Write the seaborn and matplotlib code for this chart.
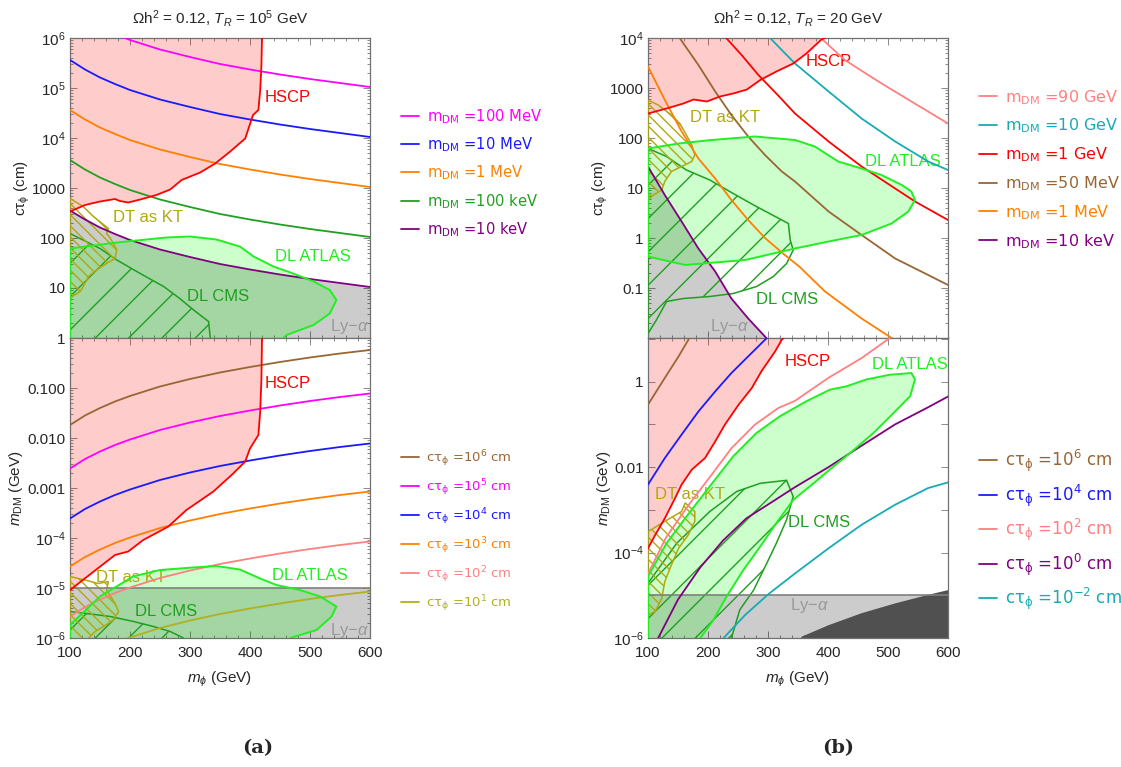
import numpy as np
import matplotlib
matplotlib.use('Agg')
import matplotlib.pyplot as plt
import seaborn as sns
from matplotlib.lines import Line2D
from matplotlib.ticker import FixedLocator, FixedFormatter, LogLocator, NullFormatter, NullLocator, MultipleLocator

sns.set_style('ticks')
plt.rcParams['font.family'] = ['Liberation Sans', 'DejaVu Sans']
plt.rcParams['mathtext.fontset'] = 'custom'
plt.rcParams['mathtext.rm'] = 'Liberation Sans'
plt.rcParams['mathtext.it'] = 'Liberation Sans:italic'
plt.rcParams['mathtext.bf'] = 'Liberation Sans:bold'
plt.rcParams['hatch.linewidth'] = 1.0

# ---------------- colours ----------------
C_MAG, C_BLUE, C_ORA, C_GRN, C_PUR = '#ff00ff', '#1a1aff', '#ff8000', '#20a020', '#800080'
C_BRN, C_PNK, C_OLV, C_TEAL, C_RED = '#996633', '#ff8080', '#b0b020', '#17abb3', '#ff0000'
C_ATL, C_CMS, C_DT = '#22ee22', '#1f9f1f', '#b0a810'

# ---------------- panel (a), top: c tau vs m_phi (log10 values) ----------------
mA = [100, 125, 150, 175, 200, 250, 300, 350, 400, 450, 500, 550, 600]
a_top_100MeV = [6.56, 6.37, 6.21, 6.08, 5.96, 5.77, 5.62, 5.48, 5.37, 5.27, 5.18, 5.10, 5.02]
a_top_10MeV = [5.56, 5.37, 5.21, 5.08, 4.96, 4.77, 4.62, 4.48, 4.37, 4.27, 4.18, 4.10, 4.02]
a_top_1MeV = [4.56, 4.37, 4.21, 4.08, 3.96, 3.77, 3.62, 3.48, 3.37, 3.27, 3.18, 3.10, 3.02]
a_top_100keV = [3.56, 3.37, 3.21, 3.08, 2.96, 2.77, 2.62, 2.48, 2.37, 2.27, 2.18, 2.10, 2.02]
a_top_10keV = [2.55, 2.37, 2.21, 2.08, 1.96, 1.77, 1.62, 1.48, 1.37, 1.27, 1.18, 1.10, 1.02]

a_top_hscp_m = [100, 125, 150, 175, 183, 197, 217, 244, 267, 286, 317, 342, 367, 392, 405, 414, 417, 419, 420]
a_top_hscp_y = [2.53, 2.66, 2.73, 2.78, 2.74, 2.71, 2.77, 2.86, 2.97, 3.16, 3.31, 3.49, 3.73, 3.99, 4.46, 4.56, 4.96, 5.43, 6.0]
a_top_atlas_m = [100, 178, 261, 300, 344, 383, 406, 439, 472, 506, 533, 544, 533, 506, 461, 439, 100]
a_top_atlas_y = [1.79, 1.91, 2.01, 2.03, 1.97, 1.83, 1.63, 1.43, 1.29, 1.13, 0.96, 0.76, 0.49, 0.26, 0.06, -0.2, -0.2]
a_top_cms_m = [100, 150, 178, 217, 256, 283, 306, 331, 333, 336, 100]
a_top_cms_y = [2.09, 1.79, 1.56, 1.29, 1.03, 0.79, 0.56, 0.33, 0.09, -0.2, -0.2]
a_top_dt_m = [100, 122, 139, 164, 161, 169, 178, 175, 161, 144, 131, 122, 117, 103, 100]
a_top_dt_y = [2.79, 2.63, 2.43, 2.19, 2.09, 1.96, 1.76, 1.59, 1.49, 1.36, 1.23, 1.03, 0.93, 0.83, 0.79]

# ---------------- panel (a), bottom: m_DM vs m_phi ----------------
a_bot_1e6 = [-1.74, -1.55, -1.40, -1.27, -1.16, -0.97, -0.82, -0.69, -0.58, -0.48, -0.39, -0.31, -0.24]
a_bot_1e5 = [-2.61, -2.42, -2.27, -2.14, -2.03, -1.84, -1.69, -1.56, -1.45, -1.35, -1.26, -1.18, -1.11]
a_bot_1e4 = [-3.61, -3.42, -3.27, -3.14, -3.03, -2.84, -2.69, -2.56, -2.45, -2.35, -2.26, -2.18, -2.11]
a_bot_1e3 = [-4.57, -4.38, -4.23, -4.10, -3.99, -3.80, -3.65, -3.52, -3.41, -3.31, -3.22, -3.14, -3.07]
a_bot_1e2 = [-5.57, -5.38, -5.23, -5.10, -4.99, -4.80, -4.65, -4.52, -4.41, -4.31, -4.22, -4.14, -4.07]
a_bot_1e1 = [-6.57, -6.38, -6.23, -6.10, -5.99, -5.80, -5.65, -5.52, -5.41, -5.31, -5.22, -5.14, -5.07]

a_bot_hscp_m = [100, 175, 197, 222, 264, 294, 339, 372, 392, 400, 414, 417, 419, 420]
a_bot_hscp_y = [-5.04, -4.34, -4.27, -4.04, -3.77, -3.44, -3.07, -2.71, -2.47, -2.21, -1.94, -1.47, -0.84, 0.0]
a_bot_atlas_m = [100, 150, 205, 250, 305, 344, 383, 417, 444, 483, 517, 544, 536, 511, 467, 460, 100]
a_bot_atlas_y = [-5.74, -5.17, -4.77, -4.64, -4.59, -4.56, -4.63, -4.81, -4.94, -5.04, -5.17, -5.37, -5.57, -5.84, -6.0, -6.3, -6.3]
a_bot_cms_m = [100, 128, 167, 206, 239, 267, 289, 295, 100]
a_bot_cms_y = [-5.47, -5.51, -5.57, -5.67, -5.77, -5.87, -6.0, -6.3, -6.3]
a_bot_dt_m = [100, 128, 147, 164, 161, 175, 181, 172, 156, 142, 131, 125, 100]
a_bot_dt_y = [-4.77, -4.85, -4.91, -4.87, -5.04, -5.31, -5.47, -5.64, -5.77, -5.87, -6.0, -6.3, -6.3]
lya_a = -5.0

# ---------------- panel (b), top ----------------
b_top_90GeV_m = [385, 389, 428, 484, 539, 600]
b_top_90GeV_y = [4.05, 3.99, 3.56, 3.13, 2.73, 2.29]
b_top_10GeV_m = [296, 301, 345, 401, 456, 512, 567, 600]
b_top_10GeV_y = [4.08, 4.03, 3.49, 2.93, 2.39, 1.93, 1.53, 1.36]
b_top_1GeV_m = [224, 228, 256, 284, 317, 345, 401, 456, 512, 545, 600]
b_top_1GeV_y = [4.08, 4.03, 3.66, 3.26, 2.85, 2.49, 1.93, 1.43, 0.99, 0.73, 0.36]
b_top_50MeV_m = [148, 151, 184, 212, 239, 267, 295, 323, 345, 401, 456, 512, 567, 600]
b_top_50MeV_y = [4.08, 4.03, 3.46, 2.93, 2.46, 2.03, 1.66, 1.33, 1.13, 0.53, 0.06, -0.41, -0.74, -0.94]
b_top_1MeV_m = [100, 128, 156, 184, 212, 239, 267, 295, 328, 353, 395, 456, 506, 512]
b_top_1MeV_y = [3.43, 2.76, 2.13, 1.59, 1.19, 0.76, 0.36, 0.0, -0.34, -0.58, -1.07, -1.61, -2.0, -2.05]
b_top_10keV_m = [100, 128, 156, 184, 212, 239, 267, 298, 302]
b_top_10keV_y = [1.43, 0.86, 0.33, -0.21, -0.67, -1.21, -1.61, -2.01, -2.06]

b_top_hscp_m = [100, 131, 159, 176, 198, 220, 242, 265, 287, 314, 342, 364, 389, 395]
b_top_hscp_y = [2.49, 2.59, 2.69, 2.77, 2.73, 2.83, 2.89, 2.97, 3.16, 3.33, 3.49, 3.69, 3.97, 4.0]
b_top_atlas_m = [100, 151, 206, 278, 345, 378, 417, 456, 489, 523, 539, 545, 534, 506, 456, 401, 345, 262, 162, 100]
b_top_atlas_y = [1.79, 1.89, 1.96, 2.03, 1.96, 1.83, 1.53, 1.39, 1.26, 1.06, 0.93, 0.76, 0.53, 0.29, 0.06, -0.07, -0.21, -0.44, -0.54, -0.37]
b_top_cms_m = [100, 131, 164, 203, 242, 276, 323, 334, 337, 342, 331, 309, 281, 242, 203, 159, 131, 114, 100]
b_top_cms_y = [1.79, 1.63, 1.36, 1.16, 0.89, 0.66, 0.36, 0.29, -0.04, -0.24, -0.51, -0.77, -0.97, -1.11, -1.17, -1.21, -1.27, -1.64, -1.91]
b_top_dt_m = [100, 117, 139, 153, 164, 173, 178, 173, 156, 139, 128, 123, 109, 100]
b_top_dt_y = [2.76, 2.66, 2.46, 2.29, 2.06, 1.86, 1.66, 1.53, 1.43, 1.33, 1.13, 0.96, 0.86, 0.76]

# ---------------- panel (b), bottom ----------------
b_bot_1e6_m = [100, 128, 151, 169, 175]
b_bot_1e6_y = [-0.54, 0.085, 0.59, 1.02, 1.12]
b_bot_1e4_m = [100, 128, 156, 184, 212, 239, 267, 298, 305]
b_bot_1e4_y = [-2.41, -1.79, -1.24, -0.70, -0.23, 0.20, 0.59, 1.02, 1.1]
b_bot_1e2_m = [100, 130, 167, 206, 239, 278, 317, 345, 401, 456, 503, 510]
b_bot_1e2_y = [-4.5, -3.65, -2.9, -2.18, -1.56, -1.01, -0.62, -0.45, 0.09, 0.55, 1.02, 1.08]
b_bot_1e0_m = [110, 117, 150, 187, 225, 264, 303, 345, 401, 456, 512, 567, 600]
b_bot_1e0_y = [-6.25, -6.0, -5.1, -4.35, -3.72, -3.2, -2.85, -2.47, -2.0, -1.5, -1.0, -0.6, -0.35]
b_bot_1em2_m = [220, 226, 262, 301, 345, 401, 456, 512, 567, 600]
b_bot_1em2_y = [-6.1, -6.0, -5.46, -4.97, -4.49, -3.90, -3.35, -2.88, -2.49, -2.36]

b_bot_hscp_m = [100, 112, 128, 145, 156, 173, 195, 212, 228, 251, 273, 289, 312, 323, 326]
b_bot_hscp_y = [-3.90, -3.59, -3.2, -2.73, -2.41, -2.06, -1.79, -1.40, -1.01, -0.54, -0.15, 0.24, 0.71, 0.98, 1.02]
b_bot_atlas_m = [100, 131, 164, 203, 242, 281, 320, 364, 403, 431, 464, 503, 539, 545, 537, 509, 476, 437, 409,
                 376, 342, 314, 287, 259, 231, 209, 187, 180, 100]
b_bot_atlas_y = [-4.56, -3.78, -3.16, -2.45, -1.75, -1.20, -0.81, -0.46, -0.19, -0.11, 0.05, 0.16, 0.20, 0.05, -0.34,
                 -0.74, -1.20, -1.67, -1.99, -2.38, -2.77, -3.31, -3.86, -4.41, -5.03, -5.58, -6.01, -6.3, -6.3]
b_bot_cms_m = [100, 148, 203, 248, 287, 331, 342, 331, 314, 298, 276, 253, 239, 235, 100]
b_bot_cms_y = [-4.72, -3.78, -3.04, -2.57, -2.38, -2.31, -2.69, -3.23, -3.78, -4.25, -4.88, -5.34, -6.0, -6.3, -6.3]
b_bot_dt_m = [100, 128, 156, 162, 178, 178, 167, 151, 139, 128, 123, 112, 100]
b_bot_dt_y = [-3.51, -3.27, -3.04, -2.84, -3.04, -3.27, -3.59, -3.90, -4.29, -4.68, -5.07, -5.38, -5.46]
b_bot_dark_m = [345, 356, 401, 456, 512, 567, 600, 600]
b_bot_dark_y = [-6.3, -5.97, -5.70, -5.42, -5.19, -4.99, -4.88, -6.3]
lya_b = -5.0

# ---------------- figure ----------------
W, H = 1121, 767
fig = plt.figure(figsize=(W / 100, H / 100), dpi=100)


def add_ax(l, t, w=300, h=300):
    return fig.add_axes([l / W, 1 - (t + h) / H, w / W, h / H])


axA1 = add_ax(70, 38)
axA2 = add_ax(70, 338)
axB1 = add_ax(648, 38)
axB2 = add_ax(648, 338)

P = lambda v: 10 ** np.asarray(v, dtype=float)


def curve(ax, m, y, c, lw=1.3, z=5):
    sns.lineplot(x=np.asarray(m, float), y=P(y), ax=ax, color=c, lw=lw, estimator=None, sort=False,
                 legend=False, zorder=z)


def region_fill(ax, m, y, fc, alpha, z=1):
    ax.fill(m, P(y), facecolor=fc, alpha=alpha, edgecolor='none', zorder=z)


def hatch_region(ax, m, y, c, hatch, lw=1.1, z=3):
    ax.fill(m, P(y), facecolor='none', edgecolor=c, hatch=hatch, lw=lw, zorder=z)


def hscp(ax, m, y, top):
    mm = list(m) + [m[-1], 100]
    yy = list(y) + [top, top]
    region_fill(ax, mm, yy, C_RED, 0.2)
    curve(ax, m, y, C_RED, lw=1.3, z=6)


def atlas(ax, m, y):
    region_fill(ax, m, y, (0, 1, 0), 0.2, z=2)
    ax.fill(m, P(y), facecolor='none', edgecolor=C_ATL, lw=1.4, zorder=7)


def style(ax, ylo, yhi, labels, xlabels, minor=True):
    ax.set_yscale('log')
    ax.set_xlim(100, 600)
    ax.set_ylim(10 ** ylo, 10 ** yhi)
    ax.xaxis.set_minor_locator(MultipleLocator(20))
    ax.xaxis.set_major_locator(FixedLocator([100, 200, 300, 400, 500, 600]))
    if xlabels:
        ax.xaxis.set_major_formatter(FixedFormatter(['100', '200', '300', '400', '500', '600']))
    else:
        ax.xaxis.set_major_formatter(NullFormatter())
    lo, hi = int(np.floor(ylo)), int(np.ceil(yhi))
    majors = [10.0 ** k for k in range(lo, hi + 1)]
    ax.yaxis.set_major_locator(FixedLocator(majors))
    ax.yaxis.set_major_formatter(FixedFormatter(labels))
    if minor:
        ax.yaxis.set_minor_locator(LogLocator(base=10, subs=np.arange(2, 10), numticks=50))
    else:
        ax.yaxis.set_minor_locator(NullLocator())
    ax.yaxis.set_minor_formatter(NullFormatter())
    ax.tick_params(which='both', direction='in', top=True, right=True, color='#777777', width=0.6,
                   labelsize=11)
    ax.tick_params(axis='y', which='both', pad=3)
    ax.tick_params(axis='x', which='both', pad=6)
    ax.tick_params(which='major', length=5)
    ax.tick_params(which='minor', length=2.5)
    for s in ax.spines.values():
        s.set_color('#707070')
        s.set_linewidth(0.9)
    ax.set_xlabel('')
    ax.set_ylabel('')


# ----- panel a top -----
ax = axA1
hscp(ax, a_top_hscp_m, a_top_hscp_y, 6.5)
ax.fill_between(mA, 10 ** -1.0, P(a_top_10keV), color='k', alpha=0.2, lw=0, zorder=1)
atlas(ax, a_top_atlas_m, a_top_atlas_y)
hatch_region(ax, a_top_cms_m, a_top_cms_y, C_CMS, '/')
hatch_region(ax, a_top_dt_m, a_top_dt_y, C_DT, '\\\\\\')
for arr, c in [(a_top_100MeV, C_MAG), (a_top_10MeV, C_BLUE), (a_top_1MeV, C_ORA),
               (a_top_100keV, C_GRN), (a_top_10keV, C_PUR)]:
    curve(ax, mA, arr, c)
style(ax, 0, 6, ['', '10', '100', '1000', '$10^4$', '$10^5$', '$10^6$'], False)
ax.set_ylabel(r'$\mathregular{c\tau_{\phi}}$ (cm)', fontsize=11, labelpad=0)
ax.text(425, 10 ** 4.82, 'HSCP', color=C_RED, fontsize=12, va='center')
ax.text(172, 10 ** 2.4, 'DT as KT', color=C_DT, fontsize=12, va='center')
ax.text(442, 10 ** 1.62, 'DL ATLAS', color=C_ATL, fontsize=12, va='center')
ax.text(295, 10 ** 0.82, 'DL CMS', color=C_CMS, fontsize=12, va='center')
ax.text(533, 10 ** 0.22, r'Ly$-\alpha$', color='#999999', fontsize=12, va='center')

# ----- panel a bottom -----
ax = axA2
hscp(ax, a_bot_hscp_m, a_bot_hscp_y, 0.3)
ax.fill_between([100, 600], 10 ** -6.5, 10 ** lya_a, color='k', alpha=0.2, lw=0, zorder=1)
ax.axhline(10 ** lya_a, color='#808080', lw=1.2, zorder=4)
atlas(ax, a_bot_atlas_m, a_bot_atlas_y)
hatch_region(ax, a_bot_cms_m, a_bot_cms_y, C_CMS, '/')
hatch_region(ax, a_bot_dt_m, a_bot_dt_y, C_DT, '\\\\\\')
for arr, c in [(a_bot_1e6, C_BRN), (a_bot_1e5, C_MAG), (a_bot_1e4, C_BLUE),
               (a_bot_1e3, C_ORA), (a_bot_1e2, C_PNK), (a_bot_1e1, C_OLV)]:
    curve(ax, mA, arr, c)
style(ax, -6, 0, ['$10^{-6}$', '$10^{-5}$', '$10^{-4}$', '0.001', '0.010', '0.100', '1'], True)
ax.set_ylabel(r'$m_{\mathregular{DM}}$ (GeV)', fontsize=11, labelpad=2)
ax.set_xlabel(r'$m_{\phi}$ (GeV)', fontsize=11, labelpad=7)
ax.text(425, 10 ** -0.9, 'HSCP', color=C_RED, fontsize=12, va='center')
ax.text(143, 10 ** -4.8, 'DT as KT', color=C_DT, fontsize=12, va='center')
ax.text(437, 10 ** -4.74, 'DL ATLAS', color=C_ATL, fontsize=12, va='center')
ax.text(208, 10 ** -5.48, 'DL CMS', color=C_CMS, fontsize=12, va='center')
ax.text(533, 10 ** -5.84, r'Ly$-\alpha$', color='#999999', fontsize=12, va='center')

# ----- panel b top -----
ax = axB1
hscp(ax, b_top_hscp_m, b_top_hscp_y, 4.3)
ax.fill_between(b_top_10keV_m, 10 ** -3.0, P(b_top_10keV_y), color='k', alpha=0.2, lw=0, zorder=1)
atlas(ax, b_top_atlas_m, b_top_atlas_y)
hatch_region(ax, b_top_cms_m, b_top_cms_y, C_CMS, '/')
hatch_region(ax, b_top_dt_m, b_top_dt_y, C_DT, '\\\\\\')
for m, y, c in [(b_top_90GeV_m, b_top_90GeV_y, C_PNK), (b_top_10GeV_m, b_top_10GeV_y, C_TEAL),
                (b_top_1GeV_m, b_top_1GeV_y, C_RED), (b_top_50MeV_m, b_top_50MeV_y, C_BRN),
                (b_top_1MeV_m, b_top_1MeV_y, C_ORA), (b_top_10keV_m, b_top_10keV_y, C_PUR)]:
    curve(ax, m, y, c)
style(ax, -2, 4, ['', '0.1', '1', '10', '100', '1000', '$10^4$'], False)
ax.set_ylabel(r'$\mathregular{c\tau_{\phi}}$ (cm)', fontsize=11, labelpad=0)
ax.text(363, 10 ** 3.52, 'HSCP', color=C_RED, fontsize=12, va='center')
ax.text(170, 10 ** 2.4, 'DT as KT', color=C_DT, fontsize=12, va='center')
ax.text(462, 10 ** 1.52, 'DL ATLAS', color=C_ATL, fontsize=12, va='center')
ax.text(280, 10 ** -1.24, 'DL CMS', color=C_CMS, fontsize=12, va='center')
ax.text(203, 10 ** -1.76, r'Ly$-\alpha$', color='#999999', fontsize=12, va='center')

# ----- panel b bottom -----
ax = axB2
top_b = 1.02
hscp(ax, b_bot_hscp_m, b_bot_hscp_y, 1.3)
ax.fill_between([100, 600], 10 ** -6.5, 10 ** lya_b, color='k', alpha=0.2, lw=0, zorder=1)
ax.fill(b_bot_dark_m, P(b_bot_dark_y), facecolor='#505050', edgecolor='none', zorder=2)
ax.axhline(10 ** lya_b, color='#808080', lw=1.2, zorder=4)
atlas(ax, b_bot_atlas_m, b_bot_atlas_y)
hatch_region(ax, b_bot_cms_m, b_bot_cms_y, C_CMS, '/')
hatch_region(ax, b_bot_dt_m, b_bot_dt_y, C_DT, '\\\\\\')
for m, y, c in [(b_bot_1e6_m, b_bot_1e6_y, C_BRN), (b_bot_1e4_m, b_bot_1e4_y, C_BLUE),
                (b_bot_1e2_m, b_bot_1e2_y, C_PNK), (b_bot_1e0_m, b_bot_1e0_y, C_PUR),
                (b_bot_1em2_m, b_bot_1em2_y, C_TEAL)]:
    curve(ax, m, y, c)
style(ax, -6, top_b, ['$10^{-6}$', '', '$10^{-4}$', '', '0.01', '', '1', ''], True, minor=False)
ax.set_ylabel(r'$m_{\mathregular{DM}}$ (GeV)', fontsize=11, labelpad=0)
ax.set_xlabel(r'$m_{\phi}$ (GeV)', fontsize=11, labelpad=7)
ax.text(328, 10 ** 0.47, 'HSCP', color=C_RED, fontsize=12, va='center')
ax.text(473, 10 ** 0.40, 'DL ATLAS', color=C_ATL, fontsize=12, va='center')
ax.text(112, 10 ** -2.65, 'DT as KT', color=C_DT, fontsize=12, va='center')
ax.text(333, 10 ** -3.3, 'DL CMS', color=C_CMS, fontsize=12, va='center')
ax.text(337, 10 ** -5.25, r'Ly$-\alpha$', color='#999999', fontsize=12, va='center')

# ---------------- titles, captions ----------------
fig.text(220 / W, 1 - 18 / H, r'$\mathregular{\Omega h^2}$ = 0.12, $T_R$ = $\mathregular{10^5}$ GeV',
         ha='center', va='center', fontsize=11)
fig.text(798 / W, 1 - 18 / H, r'$\mathregular{\Omega h^2}$ = 0.12, $T_R$ = 20 GeV',
         ha='center', va='center', fontsize=11)
fig.text(258 / W, 1 - 748 / H, '(a)', ha='center', va='center', fontsize=14, fontweight='bold',
         family='DejaVu Serif')
fig.text(838 / W, 1 - 748 / H, '(b)', ha='center', va='center', fontsize=14, fontweight='bold',
         family='DejaVu Serif')

# ---------------- legends ----------------
leg_a_top = ['100 MeV', '10 MeV', '1 MeV', '100 keV', '10 keV']
leg_a_top_c = [C_MAG, C_BLUE, C_ORA, C_GRN, C_PUR]
leg_a_bot = ['6', '5', '4', '3', '2', '1']
leg_a_bot_c = [C_BRN, C_MAG, C_BLUE, C_ORA, C_PNK, C_OLV]
leg_b_top = ['90 GeV', '10 GeV', '1 GeV', '50 MeV', '1 MeV', '10 keV']
leg_b_top_c = [C_PNK, C_TEAL, C_RED, C_BRN, C_ORA, C_PUR]
leg_b_bot = ['6', '4', '2', '0', '-2']
leg_b_bot_c = [C_BRN, C_BLUE, C_PNK, C_PUR, C_TEAL]


def legend(labels, colors, x, y, size, spacing, hl, pad):
    hs = [Line2D([], [], color=c, lw=1.3) for c in colors]
    fig.legend(hs, labels, loc='upper left', bbox_to_anchor=(x / W, 1 - y / H), frameon=False,
               labelcolor='linecolor', prop={'family': 'DejaVu Sans', 'size': size},
               handlelength=hl, handletextpad=pad, labelspacing=spacing, borderpad=0, borderaxespad=0)


legend([r'$\mathregular{m_{DM}}$ =' + s for s in leg_a_top], leg_a_top_c, 401, 107, 10.6, 0.65, 1.22, 0.54)
legend([r'$\mathregular{c\tau_{\phi}}$ =$\mathregular{10^{%s}}$ cm' % s for s in leg_a_bot], leg_a_bot_c,
       401, 448, 9.5, 0.64, 1.36, 0.53)
legend([r'$\mathregular{m_{DM}}$ =' + s for s in leg_b_top], leg_b_top_c, 979, 88, 11.5, 0.63, 1.12, 0.5)
legend([r'$\mathregular{c\tau_{\phi}}$ =$\mathregular{10^{%s}}$ cm' % s for s in leg_b_bot], leg_b_bot_c,
       979, 448, 12, 0.49, 1.08, 0.48)

fig.savefig('out.png', dpi=100)
